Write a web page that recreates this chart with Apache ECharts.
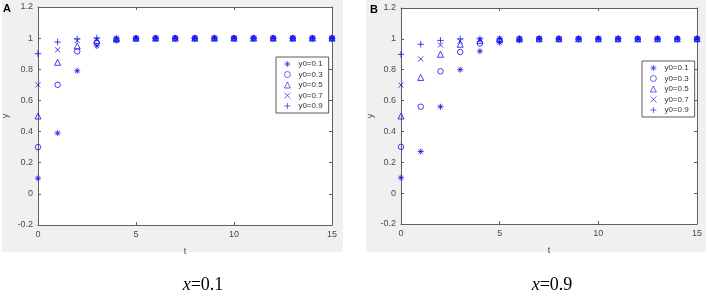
<!DOCTYPE html>
<html>
<head>
<meta charset="utf-8">
<script src="https://cdn.jsdelivr.net/npm/echarts@6/dist/echarts.min.js"></script>
<style>
  html, body { margin: 0; padding: 0; background: #fff; }
  #chart { width: 708px; height: 296px; }
</style>
</head>
<body>
<div id="chart"></div>
<script>
// t 轴
const tValues = [0, 1, 2, 3, 4, 5, 6, 7, 8, 9, 10, 11, 12, 13, 14, 15];
const seriesNames = ['y0=0.1', 'y0=0.3', 'y0=0.5', 'y0=0.7', 'y0=0.9'];
const xTicks = [0, 5, 10, 15];
const yTicks = [-0.2, 0, 0.2, 0.4, 0.6, 0.8, 1, 1.2];

// A: x=0.1
const a_y01 = [0.1, 0.39, 0.79, 0.95, 0.985, 0.997, 1, 1, 1, 1, 1, 1, 1, 1, 1, 1];
const a_y03 = [0.3, 0.70, 0.915, 0.97, 0.99, 0.998, 1, 1, 1, 1, 1, 1, 1, 1, 1, 1];
const a_y05 = [0.5, 0.845, 0.95, 0.985, 0.995, 1, 1, 1, 1, 1, 1, 1, 1, 1, 1, 1];
const a_y07 = [0.7, 0.925, 0.985, 0.99, 1, 1, 1, 1, 1, 1, 1, 1, 1, 1, 1, 1];
const a_y09 = [0.9, 0.975, 0.995, 1, 1, 1, 1, 1, 1, 1, 1, 1, 1, 1, 1, 1];

// B: x=0.9
const b_y01 = [0.1, 0.27, 0.56, 0.80, 0.92, 0.975, 0.99, 1, 1, 1, 1, 1, 1, 1, 1, 1];
const b_y03 = [0.3, 0.56, 0.79, 0.915, 0.97, 0.99, 1, 1, 1, 1, 1, 1, 1, 1, 1, 1];
const b_y05 = [0.5, 0.75, 0.90, 0.965, 0.99, 1, 1, 1, 1, 1, 1, 1, 1, 1, 1, 1];
const b_y07 = [0.7, 0.87, 0.96, 0.985, 0.995, 1, 1, 1, 1, 1, 1, 1, 1, 1, 1, 1];
const b_y09 = [0.9, 0.965, 0.99, 1, 1, 1, 1, 1, 1, 1, 1, 1, 1, 1, 1, 1];

const panelA = [a_y01, a_y03, a_y05, a_y07, a_y09];
const panelB = [b_y01, b_y03, b_y05, b_y07, b_y09];

const BLUE = '#1010f0';
const symbols = [
  'path://M0,5L10,5M5,0L5,10M1.5,1.5L8.5,8.5M8.5,1.5L1.5,8.5', // *
  'circle',
  'triangle',
  'path://M0,0L10,10M10,0L0,10', // x
  'path://M0,5L10,5M5,0L5,10' // +
];
const symbolSizes = [6, 5.5, 6, 5, 6.5];

const axisColor = '#606060';
const labelColor = '#4a4a4a';

const makeAxes = (gridIndex, yNameGap) => {
  const xAxes = [
    {
      gridIndex, type: 'value', min: 0, max: 15, interval: 5,
      name: 't', nameLocation: 'middle', nameGap: 22,
      nameTextStyle: { color: labelColor, fontSize: 9, fontFamily: 'Liberation Sans' },
      axisLine: { onZero: false, lineStyle: { color: axisColor, width: 1 } },
      axisTick: { inside: true, length: 3, lineStyle: { color: axisColor } },
      axisLabel: { color: labelColor, fontSize: 9, margin: 5, fontFamily: 'Liberation Sans' },
      splitLine: { show: false }
    },
    {
      gridIndex, type: 'value', min: 0, max: 15, interval: 5, position: 'top',
      axisLine: { show: true, onZero: false, lineStyle: { color: axisColor, width: 1 } },
      axisTick: { inside: true, length: 3, lineStyle: { color: axisColor } },
      axisLabel: { show: false },
      splitLine: { show: false }
    }
  ];
  const yAxes = [
    {
      gridIndex, type: 'value', min: -0.2, max: 1.2, interval: 0.2,
      name: 'y', nameLocation: 'middle', nameGap: yNameGap, nameRotate: 90,
      nameTextStyle: { color: labelColor, fontSize: 9, fontFamily: 'Liberation Sans' },
      axisLine: { show: true, onZero: false, lineStyle: { color: axisColor, width: 1 } },
      axisTick: { show: true, inside: true, length: 3, lineStyle: { color: axisColor } },
      axisLabel: { color: labelColor, fontSize: 9, margin: 5, fontFamily: 'Liberation Sans' },
      splitLine: { show: false }
    },
    {
      gridIndex, type: 'value', min: -0.2, max: 1.2, interval: 0.2, position: 'right',
      axisLine: { show: true, onZero: false, lineStyle: { color: axisColor, width: 1 } },
      axisTick: { show: true, inside: true, length: 3, lineStyle: { color: axisColor } },
      axisLabel: { show: false },
      splitLine: { show: false }
    }
  ];
  return { xAxes, yAxes };
};

const axA = makeAxes(0, 28);
const axB = makeAxes(1, 26);

const makeSeries = (values, axisOffset) => values.map((vals, i) => ({
  name: seriesNames[i],
  type: 'scatter',
  xAxisIndex: axisOffset,
  yAxisIndex: axisOffset,
  symbol: symbols[i],
  symbolSize: symbolSizes[i],
  itemStyle: { color: 'rgba(0,0,0,0)', borderColor: BLUE, borderWidth: 1 },
  emphasis: { disabled: true },
  data: tValues.map((t, k) => [t, vals[k]])
}));

const makeLegend = (left, top) => ({
  orient: 'vertical', left, top,
  data: seriesNames,
  selectedMode: false,
  itemWidth: 6, itemHeight: 6, itemGap: 2.5,
  padding: [3, 6, 3, 8],
  borderColor: '#333', borderWidth: 0.8,
  backgroundColor: '#fff',
  itemStyle: { color: 'rgba(0,0,0,0)', borderColor: BLUE, borderWidth: 0.8 },
  textStyle: { fontSize: 8, color: '#333', fontFamily: 'Liberation Sans', padding: [0, 0, 0, 3] }
});

const chart = echarts.init(document.getElementById('chart'), null, { renderer: 'canvas' });
const option = {
  animation: false,
  backgroundColor: '#fff',
  graphic: [
    { type: 'rect', z: -10, shape: { x: 2, y: 0, width: 341, height: 252 }, style: { fill: '#f0f0f0' } },
    { type: 'rect', z: -10, shape: { x: 366, y: 0, width: 340, height: 252 }, style: { fill: '#f0f0f0' } },
    { type: 'text', left: 3, top: 3, style: { text: 'A', font: 'bold 11px "Liberation Sans"', fill: '#000' } },
    { type: 'text', left: 370, top: 4, style: { text: 'B', font: 'bold 11px "Liberation Sans"', fill: '#000' } },
    {
      type: 'text', x: 203, y: 285,
      style: {
        text: '{i|x}=0.1', align: 'center', verticalAlign: 'middle',
        font: '18px "Liberation Serif"', fill: '#000',
        rich: { i: { fontStyle: 'italic', fontSize: 18, fontFamily: 'Liberation Serif' } }
      }
    },
    {
      type: 'text', x: 552, y: 285,
      style: {
        text: '{i|x}=0.9', align: 'center', verticalAlign: 'middle',
        font: '18px "Liberation Serif"', fill: '#000',
        rich: { i: { fontStyle: 'italic', fontSize: 18, fontFamily: 'Liberation Serif' } }
      }
    }
  ],
  grid: [
    { left: 37, top: 7, width: 295, height: 218, show: true, backgroundColor: '#fff', borderWidth: 0 },
    { left: 401, top: 8, width: 296, height: 216, show: true, backgroundColor: '#fff', borderWidth: 0 }
  ],
  legend: [makeLegend(276, 57), makeLegend(642, 61)],
  xAxis: [...axA.xAxes, ...axB.xAxes],
  yAxis: [...axA.yAxes, ...axB.yAxes],
  series: [...makeSeries(panelA, 0), ...makeSeries(panelB, 2)]
};
chart.setOption(option);
</script>
</body>
</html>
